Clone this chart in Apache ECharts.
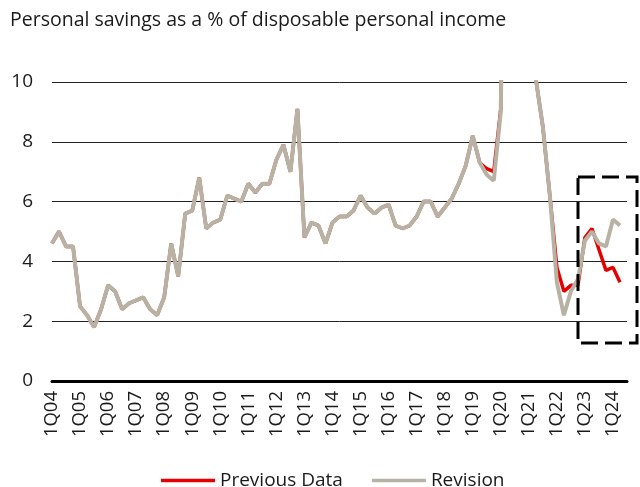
<!DOCTYPE html>
<html>
<head>
<meta charset="utf-8">
<script src="https://cdn.jsdelivr.net/npm/echarts@6/dist/echarts.min.js"></script>
<style>
  html, body { margin: 0; padding: 0; background: #fff; }
  #chart { width: 640px; height: 487px; }
</style>
</head>
<body>
<div id="chart"></div>
<script>
// Quarterly categories 1Q04 .. 3Q24
const years = ['04','05','06','07','08','09','10','11','12','13','14','15','16','17','18','19','20','21','22','23','24'];
const categories = [];
years.forEach(y => { for (let q = 1; q <= 4; q++) categories.push(q + 'Q' + y); });
categories.length = 83; // through 3Q24

const titleText = 'Personal savings as a % of disposable personal income';
const seriesNames = ['Previous Data', 'Revision'];

const previousData = [
  4.6, 5.0, 4.5, 4.5, 2.5, 2.2, 1.8, 2.4, 3.2, 3.0, 2.4, 2.6, 2.7, 2.8, 2.4, 2.2,
  2.8, 4.6, 3.5, 5.6, 5.7, 6.8, 5.1, 5.3, 5.4, 6.2, 6.1, 6.0, 6.6, 6.3, 6.6, 6.6,
  7.4, 7.9, 7.0, 9.1, 4.8, 5.3, 5.2, 4.6, 5.3, 5.5, 5.5, 5.7, 6.2, 5.8, 5.6, 5.8,
  5.9, 5.2, 5.1, 5.2, 5.5, 6.0, 6.0, 5.5, 5.8, 6.1, 6.6, 7.2, 8.2, 7.3, 7.1, 7.0,
  9.1, 26.0, 16.5, 13.5, 20.0, 10.1, 8.5, 6.2, 3.8, 3.0, 3.2, 3.2, 4.8, 5.1, 4.4, 3.7,
  3.8, 3.3, null
];

const revisionData = [
  4.6, 5.0, 4.5, 4.5, 2.5, 2.2, 1.8, 2.4, 3.2, 3.0, 2.4, 2.6, 2.7, 2.8, 2.4, 2.2,
  2.8, 4.6, 3.5, 5.6, 5.7, 6.8, 5.1, 5.3, 5.4, 6.2, 6.1, 6.0, 6.6, 6.3, 6.6, 6.6,
  7.4, 7.9, 7.0, 9.1, 4.8, 5.3, 5.2, 4.6, 5.3, 5.5, 5.5, 5.7, 6.2, 5.8, 5.6, 5.8,
  5.9, 5.2, 5.1, 5.2, 5.5, 6.0, 6.0, 5.5, 5.8, 6.1, 6.6, 7.2, 8.2, 7.3, 6.9, 6.7,
  9.0, 26.0, 16.5, 13.5, 20.0, 10.1, 8.5, 6.2, 3.3, 2.2, 3.0, 3.4, 4.7, 5.0, 4.6, 4.5,
  5.4, 5.2, null
];

const FONT = '"Open Sans", "Noto Sans", sans-serif';
const chart = echarts.init(document.getElementById('chart'), null, { renderer: 'canvas' });

chart.setOption({
  animation: false,
  backgroundColor: '#ffffff',
  title: {
    text: titleText,
    left: 5,
    top: 8,
    padding: [2, 5, 2, 5],
    textStyle: { fontFamily: FONT, fontSize: 19.5, fontWeight: 'normal', color: '#1a1a1a' }
  },
  legend: {
    data: seriesNames,
    left: 161,
    top: 471,
    padding: 0,
    icon: 'rect',
    itemWidth: 54,
    itemHeight: 3.5,
    itemGap: 29,
    textStyle: { fontFamily: FONT, fontSize: 19, color: '#1a1a1a' }
  },
  grid: { left: 52, right: 13, top: 82, bottom: 106, containLabel: false },
  xAxis: {
    type: 'category',
    data: categories,
    boundaryGap: false,
    axisLine: { show: true, lineStyle: { color: '#000', width: 3 } },
    axisTick: { show: false },
    axisLabel: {
      interval: 3,
      rotate: 90,
      margin: 10,
      fontFamily: FONT,
      fontSize: 18.5,
      color: '#1a1a1a'
    },
    splitLine: { show: false }
  },
  yAxis: {
    type: 'value',
    min: 0,
    max: 10,
    interval: 2,
    axisLine: { show: false },
    axisTick: { show: false },
    axisLabel: { margin: 19, fontFamily: FONT, fontSize: 19, color: '#1a1a1a' },
    splitLine: { show: true, lineStyle: { color: '#222', width: 1 } }
  },
  series: [
    {
      name: seriesNames[0],
      type: 'line',
      data: previousData,
      symbol: 'none',
      clip: true,
      color: '#e60000',
      lineStyle: { color: '#e60000', width: 3.5 },
      z: 2
    },
    {
      name: seriesNames[1],
      type: 'line',
      data: revisionData,
      symbol: 'none',
      clip: true,
      color: '#b8b2a5',
      lineStyle: { color: '#b8b2a5', width: 4 },
      z: 3
    }
  ],
  graphic: [
    {
      type: 'rect',
      shape: { x: 578, y: 177, width: 59, height: 166 },
      style: { fill: 'none', stroke: '#000', lineWidth: 3, lineDash: [17, 7] },
      z: 10
    }
  ]
});
</script>
</body>
</html>
